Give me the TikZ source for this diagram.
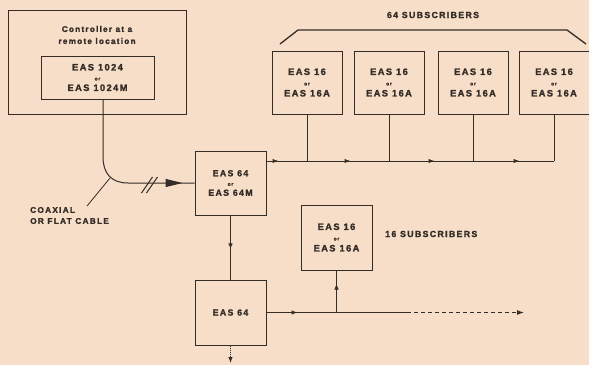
\documentclass[tikz,border=0pt]{standalone}
\usepackage{fontspec}
\setmainfont{Liberation Sans Bold}[LetterSpace=15,FakeBold=1.5]
\usetikzlibrary{arrows.meta,decorations.markings}
\definecolor{bgc}{RGB}{247,222,201}
\definecolor{linec}{RGB}{52,44,38}
\newcommand{\orl}{{\fontsize{5}{6}\selectfont or}}
\begin{document}
\begin{tikzpicture}[x=1pt,y=-1pt,
  every node/.style={text=linec},
  ln/.style={draw=linec,line width=1pt},
  boxs/.style={ln,align=center,inner sep=0pt,font=\fontsize{9.3}{11.5}\selectfont},
  lbl/.style={align=center,inner sep=0pt,font=\fontsize{8.8}{11}\selectfont},
  midarr/.style={postaction={decorate},decoration={markings,mark=at position #1 with {\arrow{Latex[length=6pt,width=4.5pt]}}}}
]
\fill[bgc] (0,0) rectangle (589,365);
\useasboundingbox (0,0) rectangle (589,365);

% controller
\node[ln,minimum width=178pt,minimum height=104pt,inner sep=0pt] (ctrl) at (97,62) {};
\node[lbl,font=\fontsize{8.2}{12}\selectfont] (ctrltxt) at (97,35) {Controller at a\\remote location};
\node[boxs,minimum width=113pt,minimum height=43pt] (eas1024) at (97.5,77.5) {EAS 1024\\[-1.5pt]\orl\\[-1pt]EAS 1024M};

% EAS 64 boxes
\node[boxs,minimum width=71pt,minimum height=64pt,font=\fontsize{8.8}{11}\selectfont] (eas64m) at (230.5,183) {EAS 64\\[-1.5pt]\orl\\[-1pt]EAS 64M};
\node[boxs,minimum width=71pt,minimum height=65pt,font=\fontsize{8.8}{11}\selectfont] (eas64) at (230.5,312.5) {EAS 64};

% subscriber boxes
\foreach \n/\x in {s1/307,s2/389,s3/473,s4/554}{
  \node[boxs,minimum width=70pt,minimum height=63pt] (\n) at (\x,82.5) {EAS 16\\[-1pt]\orl\\[-0.5pt]EAS 16A};
}
\node[boxs,minimum width=71pt,minimum height=65pt] (s16) at (336.5,237.5) {EAS 16\\[-1pt]\orl\\[-0.5pt]EAS 16A};

% labels
\node[lbl] (sub64) at (433,15) {64 SUBSCRIBERS};
\node[lbl,anchor=west] (sub16) at (385,234) {16 SUBSCRIBERS};
\node[lbl,anchor=west,align=left,font=\fontsize{8.3}{11}\selectfont] (coax) at (30,215.5) {COAXIAL\\OR FLAT CABLE};

% bracket
\draw[draw=linec,line width=1.3pt] (280,44) -- (298,30) -- (567,30) -- (586,44);

% cable
\coordinate (c1) at (103,157);
\coordinate (c0) at (eas1024.south -| c1);
\draw[ln,postaction={decorate},decoration={markings,mark=at position -12pt with {\arrow{Triangle[length=17pt,width=8pt]}}}]
  (c0) -- (c1) .. controls (103,173) and (111,183) .. (128,183) -- (eas64m.west);
\draw[ln] (141.5,193) -- (152.5,177);
\draw[ln] (146.5,193) -- (157.5,177);
\coordinate (pt1) at (87,206);
\coordinate (pt2) at (110,178);
\draw[draw=linec,line width=0.8pt] (pt1) -- (pt2);

% top bus
\coordinate (busy) at (0,161);
\foreach \n in {s1,s2,s3,s4}{ \coordinate (j\n) at (\n.south |- busy); }
\draw[ln,postaction={decorate},decoration={markings,
   mark=at position 12pt with {\arrow{Latex[length=6pt,width=4.5pt]}},
   mark=at position 84pt with {\arrow{Latex[length=6pt,width=4.5pt]}},
   mark=at position 168pt with {\arrow{Latex[length=6pt,width=4.5pt]}},
   mark=at position 253pt with {\arrow{Latex[length=6pt,width=4.5pt]}}}]
  (eas64m.east |- busy) -- (js4);
\foreach \n in {s1,s2,s3}{ \draw[ln] (\n.south) -- (j\n); }
\draw[ln] (s4.south) -- (js4);

% vertical EAS64M -> EAS64
\draw[ln,midarr=0.53] (eas64m.south) -- (eas64.north);
\coordinate (dn) at (230.5,363);
\draw[ln,densely dotted,-{Latex[length=6pt,width=4.5pt]}] (eas64.south) -- (dn);

% lower bus
\coordinate (j16) at (s16.south |- eas64.east);
\coordinate (solidend) at (407,312.5);
\coordinate (dashend) at (524,312.5);
\draw[ln,midarr=31pt] (eas64.east) -- (solidend);
\draw[ln,dashed,dash pattern=on 4pt off 3pt,-{Latex[length=7pt,width=5pt]}] (solidend) -- (dashend);
\draw[ln,midarr=29pt] (j16) -- (s16.south);
\end{tikzpicture}
\end{document}
